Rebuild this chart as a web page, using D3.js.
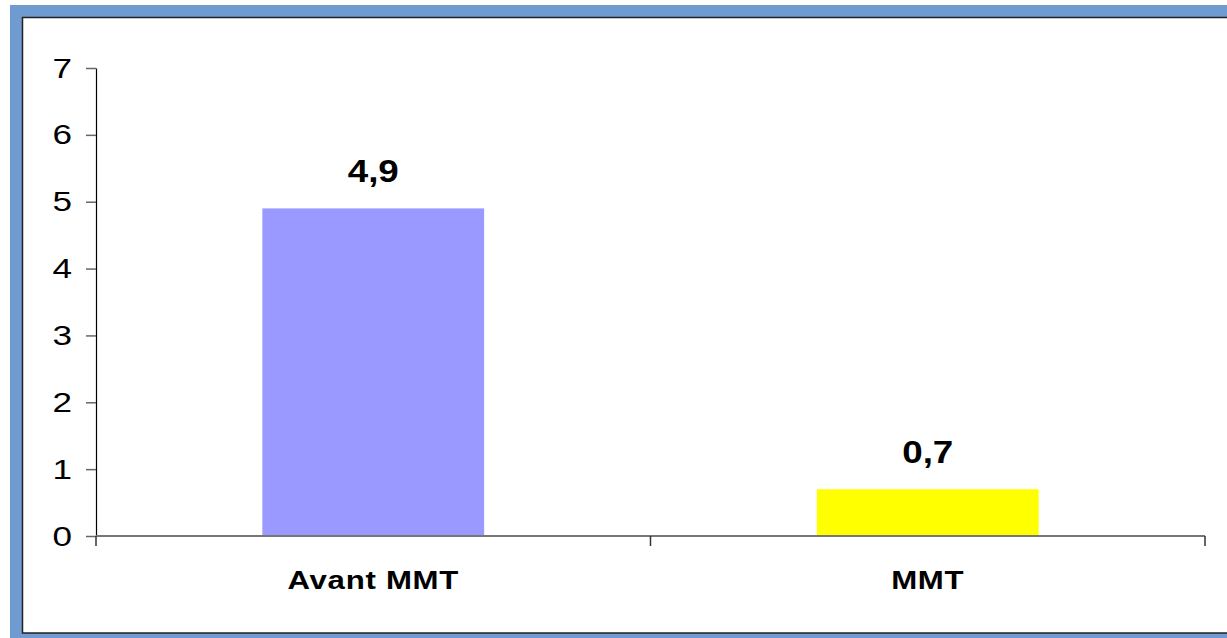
<!DOCTYPE html>
<html>
<head>
<meta charset="utf-8">
<script src="https://cdn.jsdelivr.net/npm/d3@7"></script>
<style>
  html, body { margin: 0; padding: 0; background: #fff; }
  svg { display: block; }
  text { font-family: "Liberation Sans", Arial, sans-serif; fill: #000; }
</style>
</head>
<body>
<svg id="chart" width="1227" height="638"></svg>
<script>
// Chart data
const categories = ["Avant MMT", "MMT"];
const values = [4.9, 0.7];
const valueLabels = ["4,9", "0,7"];
const barColors = ["#9999FF", "#FFFF00"];
const yTicks = [0, 1, 2, 3, 4, 5, 6, 7];

const svg = d3.select("#chart");

// Outer blue frame and white panel
svg.append("rect")
  .attr("x", 10).attr("y", 5)
  .attr("width", 1240).attr("height", 650)
  .attr("fill", "#6f9bd0");
svg.append("rect")
  .attr("x", 22.5).attr("y", 17.5)
  .attr("width", 1230).attr("height", 615.5)
  .attr("fill", "#fff")
  .attr("stroke", "#222").attr("stroke-width", 1.5);

const plot = { left: 96, right: 1205, top: 68, bottom: 536 };

const x = d3.scaleBand()
  .domain(categories)
  .range([plot.left, plot.right])
  .paddingInner(0.6)
  .paddingOuter(0.3);

const y = d3.scaleLinear()
  .domain([0, 7])
  .range([plot.bottom, plot.top]);

// Bars
svg.append("g").selectAll("rect")
  .data(categories)
  .join("rect")
  .attr("x", d => x(d))
  .attr("y", (d, i) => y(values[i]))
  .attr("width", x.bandwidth())
  .attr("height", (d, i) => y(0) - y(values[i]))
  .attr("fill", (d, i) => barColors[i]);

// Y axis
const yAxis = svg.append("g")
  .attr("transform", `translate(${plot.left},0)`)
  .call(d3.axisLeft(y).tickValues(yTicks).tickSize(10).tickSizeOuter(0).tickFormat(d3.format("d")));
yAxis.select(".domain").attr("stroke", "#000").attr("stroke-width", 1.2);
yAxis.selectAll(".tick line").attr("stroke", "#666").attr("stroke-width", 1.5);
yAxis.selectAll(".tick text")
  .attr("x", null).attr("dy", null)
  .attr("text-anchor", "end")
  .attr("dominant-baseline", "central")
  .style("font-size", "27px")
  .attr("transform", "translate(-24,0) scale(1.3,1)");

// X axis with tick marks at category boundaries
const xAxisG = svg.append("g").attr("transform", `translate(0,${plot.bottom})`);
xAxisG.append("line")
  .attr("x1", plot.left).attr("x2", plot.right)
  .attr("stroke", "#777").attr("stroke-width", 2);
const bounds = [plot.left, (plot.left + plot.right) / 2, plot.right];
xAxisG.selectAll("line.tk")
  .data(bounds)
  .join("line")
  .attr("class", "tk")
  .attr("x1", d => d).attr("x2", d => d)
  .attr("y1", 0).attr("y2", 10)
  .attr("stroke", "#333").attr("stroke-width", 1.5);

// Category labels
svg.append("g").selectAll("text")
  .data(categories)
  .join("text")
  .attr("transform", d => `translate(${x(d) + x.bandwidth() / 2},589) scale(1.2,1)`)
  .attr("text-anchor", "middle")
  .style("font-size", "26px")
  .style("font-weight", "bold")
  .style("letter-spacing", "0.6px")
  .text(d => d);

// Value labels above bars
svg.append("g").selectAll("text")
  .data(categories)
  .join("text")
  .attr("transform", (d, i) => `translate(${x(d) + x.bandwidth() / 2},${y(values[i]) - 26}) scale(1.15,1)`)
  .attr("text-anchor", "middle")
  .style("font-size", "32px")
  .style("font-weight", "bold")
  .text((d, i) => valueLabels[i]);
</script>
</body>
</html>
